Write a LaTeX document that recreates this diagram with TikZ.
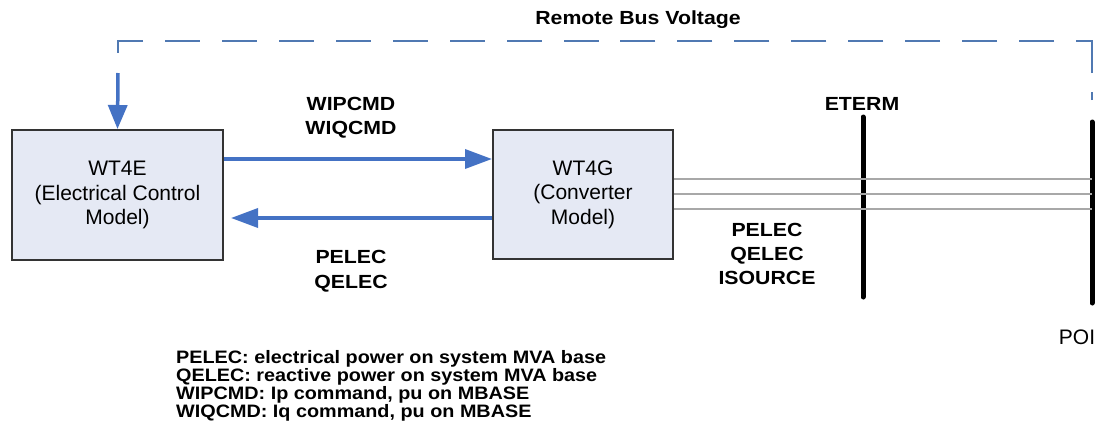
\documentclass[tikz,border=0pt]{standalone}
\usepackage{fontspec}
\setmainfont{Liberation Sans}
\newfontfamily\lblfont{Liberation Sans}[FakeStretch=1.12]
\newfontfamily\legfont{Liberation Sans}[FakeStretch=1.1]
\usetikzlibrary{arrows.meta}
\definecolor{boxfill}{HTML}{E5E9F4}
\definecolor{arrblue}{HTML}{4472C4}
\definecolor{dashblue}{HTML}{5079B2}
\definecolor{busgray}{HTML}{A8A8A8}
\tikzset{
  x=1pt,y=-1pt,
  block/.style={draw=black!80,line width=2pt,fill=boxfill,minimum width=211pt,minimum height=130pt,align=center,font=\fontsize{21}{24.5}\selectfont,inner sep=0pt},
  blockb/.style={block,minimum width=180pt,minimum height=129pt},
  lbl/.style={font=\lblfont\bfseries\fontsize{19}{24}\selectfont,align=center,inner sep=0pt},
  sig/.style={draw=arrblue,line width=3.5pt,-{Triangle[length=27pt,width=19pt]}},
  dashc/.style={draw=dashblue,line width=2.8pt,
    dash pattern=on 8pt off 19pt on 48pt off 21.94pt
      on 35pt off 21.94pt on 35pt off 21.94pt on 35pt off 21.94pt on 35pt off 21.94pt
      on 35pt off 21.94pt on 35pt off 21.94pt on 35pt off 21.94pt on 35pt off 21.94pt
      on 35pt off 21.94pt on 35pt off 21.94pt on 35pt off 21.94pt on 35pt off 21.94pt
      on 35pt off 21.94pt on 35pt off 21.94pt on 35pt off 21.94pt on 35pt off 21.94pt
      on 37pt off 200pt},
  bar/.style={line width=5pt,line cap=round},
  bus/.style={draw=busgray,line width=1.3pt}
}
\begin{document}
\begin{tikzpicture}
\useasboundingbox (0,0) rectangle (1099,426);
\node[block] (e) at (117.5,195) {WT4E\\(Electrical Control\\Model)};
\node[blockb] (g) at (583,194.5) {WT4G\\(Converter\\Model)};
\coordinate (eterm1) at (863,117);
\coordinate (eterm2) at (863,297);
\coordinate (poi1) at (1092,122);
\coordinate (poi2) at (1092,303);
\draw[bar] (eterm1) -- (eterm2);
\draw[bar] (poi1) -- (poi2);
\foreach \yy in {179,194,209}{
  \draw[bus] (g.east |- 0,\yy) -- (poi1 |- 0,\yy);
}
\draw[sig] (e.east |- 0,159) -- (g.west |- 0,159);
\draw[sig] (g.west |- 0,218) -- ([xshift=7pt]e.east |- 0,218);
\coordinate (dr0) at (1092,100);
\coordinate (dr) at (1092,41);
\coordinate (dl) at (118,41);
\coordinate (dl0) at (118,53);
\coordinate (ar0) at (118,73);
\draw[dashc] (dr0) -- (dr) -- (dl) -- (dl0);
\draw[draw=arrblue,line width=3.5pt,-{Triangle[length=24pt,width=19pt]}] (ar0) -- (e.north);
\node[lbl] (rbv) at (638,20) {Remote Bus Voltage};
\node[lbl] (cmd) at (351,118) {WIPCMD\\WIQCMD};
\node[lbl,font=\lblfont\bfseries\fontsize{19}{25}\selectfont] (fb) at (351,271.5) {PELEC\\QELEC};
\node[lbl] (out) at (767,254) {PELEC\\QELEC\\ISOURCE};
\node[lbl] (et) at (862,104) {ETERM};
\node[inner sep=0pt,font=\fontsize{21}{24}\selectfont] (poi) at (1077,337) {POI};
\node[anchor=north west,align=left,inner sep=0pt,font=\legfont\bfseries\fontsize{18}{18}\selectfont] (leg) at (176,350) {PELEC: electrical power on system MVA base\\QELEC: reactive power on system MVA base\\WIPCMD: Ip command, pu on MBASE\\WIQCMD: Iq command, pu on MBASE};
\end{tikzpicture}
\end{document}
